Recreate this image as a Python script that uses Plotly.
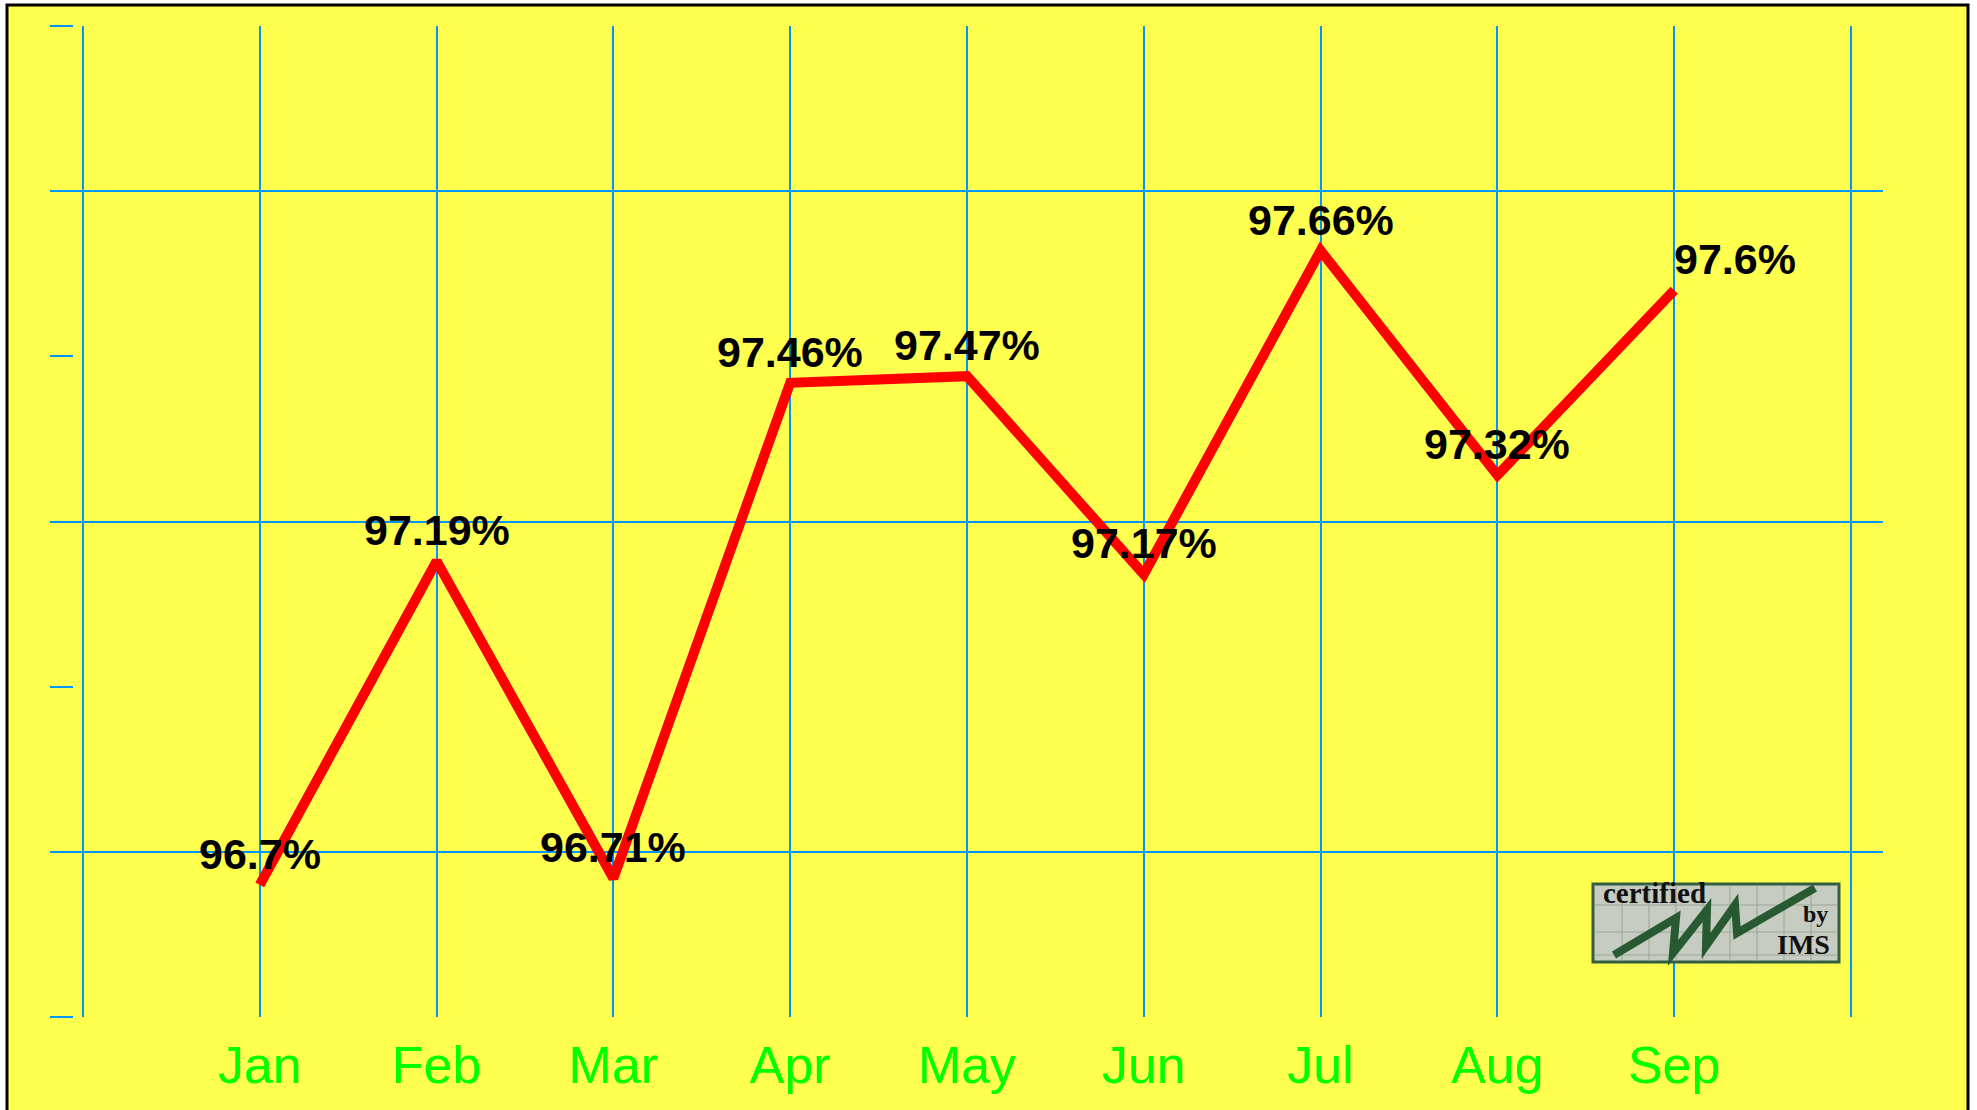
import plotly.graph_objects as go

# ---- data ----
months = ["Jan", "Feb", "Mar", "Apr", "May", "Jun", "Jul", "Aug", "Sep"]
values = [96.70, 97.19, 96.71, 97.46, 97.47, 97.17, 97.66, 97.32, 97.60]
labels = ["96.7%", "97.19%", "96.71%", "97.46%", "97.47%", "97.17%", "97.66%", "97.32%", "97.6%"]
x_idx = list(range(len(months)))

grid_vals = [96.75, 97.25, 97.75]
tick_vals = [96.5, 97.0, 97.5, 98.0]

W, H = 1977, 1110
ML, MR, MT, MB = 50, 94, 26, 93
PW, PH = W - ML - MR, H - MT - MB

BLUE = "#0096ff"
YELLOW = "#ffff50"


def px(x):
    return (x - ML) / PW


def py(y):
    return (H - MB - y) / PH


fig = go.Figure()
fig.add_trace(go.Scatter(
    x=x_idx, y=values, mode="lines",
    line=dict(color="#ff0000", width=10),
    hoverinfo="skip", showlegend=False,
))

annotations = []
for i, (xv, yv, lab) in enumerate(zip(x_idx, values, labels)):
    last = i == len(months) - 1
    annotations.append(dict(
        x=xv, y=yv, xref="x", yref="y", text=lab, showarrow=False,
        xanchor="left" if last else "center", yanchor="middle", yshift=31,
        xshift=-2 if last else 0,
        font=dict(family="Liberation Sans, Arial", size=43, color="black", weight="bold"),
    ))

SERIF = "Liberation Serif, Times New Roman"
# logo texts
annotations += [
    dict(x=px(1601), y=py(911), xref="paper", yref="paper", text="certified",
         showarrow=False, xanchor="left", yanchor="bottom",
         font=dict(family=SERIF, size=29, color="#111", weight="bold")),
    dict(x=px(1830), y=py(929), xref="paper", yref="paper", text="by",
         showarrow=False, xanchor="right", yanchor="bottom",
         font=dict(family=SERIF, size=24, color="#111", weight="bold")),
    dict(x=px(1832), y=py(962), xref="paper", yref="paper", text="IMS",
         showarrow=False, xanchor="right", yanchor="bottom",
         font=dict(family=SERIF, size=28, color="#111", weight="bold")),
]

shapes = [
    # yellow page with black frame
    dict(type="rect", xref="paper", yref="paper", layer="below",
         x0=px(7), x1=px(1968), y0=py(1125), y1=py(5),
         fillcolor=YELLOW, line=dict(color="black", width=3)),
    # logo box
    dict(type="rect", xref="paper", yref="paper", layer="above",
         x0=px(1593), x1=px(1839), y0=py(962), y1=py(884),
         fillcolor="#c6ccc2", line=dict(color="#345e40", width=3)),
]
for gx in [1622, 1649, 1676, 1703, 1730, 1757, 1784, 1811]:
    shapes.append(dict(type="line", xref="paper", yref="paper", layer="above",
                       x0=px(gx), x1=px(gx), y0=py(961), y1=py(885),
                       line=dict(color="#98a898", width=1)))
for gy in [905, 932, 955]:
    shapes.append(dict(type="line", xref="paper", yref="paper", layer="above",
                       x0=px(1594), x1=px(1838), y0=py(gy), y1=py(gy),
                       line=dict(color="#98a898", width=1)))
zig = [(1614, 955), (1676, 918), (1673, 953), (1707, 910), (1706, 946),
       (1735, 905), (1737, 933), (1815, 888)]
path = "M " + " L ".join(f"{px(a):.5f},{py(b):.5f}" for a, b in zig)
shapes.append(dict(type="path", xref="paper", yref="paper", layer="above", path=path,
                   line=dict(color="#275a31", width=8)))

fig.update_layout(
    width=W, height=H,
    margin=dict(l=ML, r=MR, t=MT, b=MB, pad=0),
    paper_bgcolor="white",
    plot_bgcolor="rgba(0,0,0,0)",
    showlegend=False,
    annotations=annotations,
    shapes=shapes,
    xaxis=dict(
        range=[-1 - 33 / 176.8, 9 + 32 / 176.8],
        tickmode="array",
        tickvals=[-1] + x_idx + [len(months)],
        ticktext=[""] + months + [""],
        showgrid=True, gridcolor=BLUE, gridwidth=2,
        zeroline=False, showline=False, ticks="",
        ticklabelstandoff=13,
        tickfont=dict(family="Liberation Sans, Arial", size=52, color="#00ff00"),
        fixedrange=True,
    ),
    yaxis=dict(
        range=[96.5, 98.0],
        tickmode="array", tickvals=grid_vals,
        showgrid=True, gridcolor=BLUE, gridwidth=2,
        showticklabels=False, ticks="",
        zeroline=False, showline=False,
        minor=dict(tickmode="array", tickvals=tick_vals, ticks="inside",
                   ticklen=23, tickwidth=2, tickcolor=BLUE, showgrid=False),
        fixedrange=True,
    ),
)

fig.write_html("out.html", config={"displayModeBar": False},
               post_script="document.body.style.margin='0';")
